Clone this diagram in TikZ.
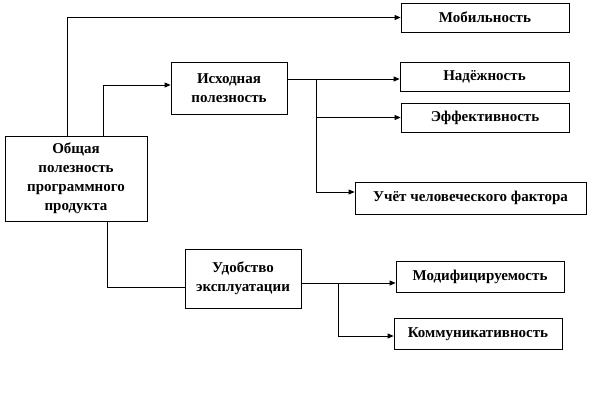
\documentclass[tikz,border=0pt]{standalone}
\usepackage{fontspec}
\setmainfont{Liberation Serif}
\usetikzlibrary{arrows.meta}
\begin{document}
\begin{tikzpicture}[x=1pt,y=-1pt,
  box/.style={draw,line width=0.8pt,rectangle,inner sep=2pt,align=center,
    font=\bfseries\fontsize{15}{19}\selectfont},
  link/.style={line width=0.8pt},
  arr/.style={link,-{Triangle[length=6pt,width=5pt]}}]
\useasboundingbox (0,0) rectangle (589,402);
\node[box,minimum width=142pt,minimum height=85pt] (main) at (76,178.5) {Общая\\полезность\\программного\\продукта};
\node[box,minimum width=116pt,minimum height=52pt] (isx) at (229,88) {Исходная\\полезность};
\node[box,minimum width=168pt,minimum height=29pt] (mob) at (485,17.5) {Мобильность};
\node[box,minimum width=169pt,minimum height=29pt] (nad) at (484.5,76.5) {Надёжность};
\node[box,minimum width=168pt,minimum height=29pt] (eff) at (485,117.5) {Эффективность};
\node[box,minimum width=231pt,minimum height=32pt] (uch) at (470.5,198) {Учёт человеческого фактора};
\node[box,minimum width=116pt,minimum height=59pt] (udo) at (243,278.5) {Удобство\\эксплуатации};
\node[box,minimum width=168pt,minimum height=31pt] (mod) at (480,277) {Модифицируемость};
\node[box,minimum width=168pt,minimum height=31pt] (kom) at (478,334) {Коммуникативность};
\coordinate (j1) at (316,79);
\coordinate (j2) at (338,283);
\draw[arr] (main.north -| 67,0) |- (mob.west);
\draw[arr] (main.north -| 103,0) |- ([yshift=3pt]isx.west);
\draw[arr] (isx.east |- j1) -- (nad.west |- j1);
\draw[arr] (j1) |- ([yshift=6pt]uch.west);
\draw[arr] (j1 |- eff.west) -- (eff.west);
\draw[link] (main.south -| 107,0) |- ([yshift=-8.5pt]udo.west);
\draw[arr] (udo.east |- j2) -- (mod.west |- j2);
\draw[arr] (j2) |- ([yshift=-2pt]kom.west);
\end{tikzpicture}
\end{document}
